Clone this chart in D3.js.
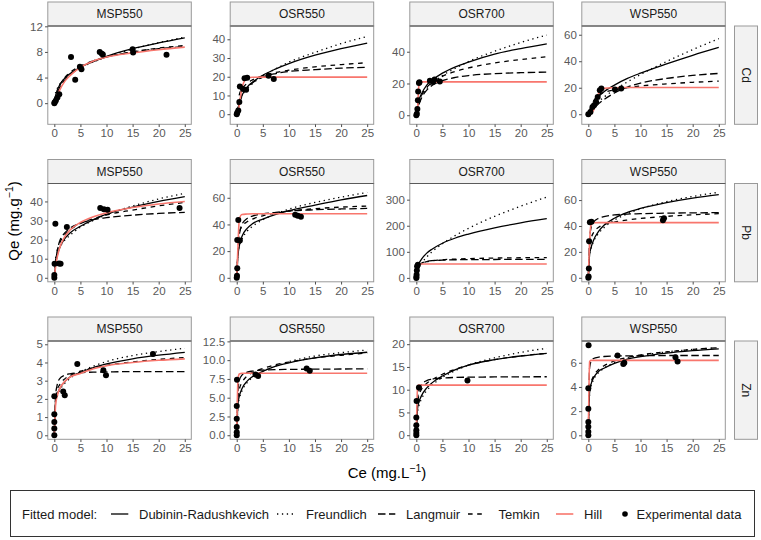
<!DOCTYPE html>
<html><head><meta charset="utf-8">
<script src="https://cdn.jsdelivr.net/npm/d3@7"></script>
<style>
body{margin:0;background:#fff}
svg{display:block;font-family:"Liberation Sans",Arial,Helvetica,sans-serif}
</style>
</head><body>
<svg id="chart" width="761" height="540"></svg>
<script>
// ---------------- DATA ----------------
const metals = ["Cd", "Pb", "Zn"];
const sorbents = ["MSP550", "OSR550", "OSR700", "WSP550"];
const modelNames = ["Dubinin-Radushkevich", "Freundlich", "Langmuir", "Temkin", "Hill"];
const ceGrid = [0, 0.25, 0.5, 1, 2, 3, 5, 7.5, 10, 15, 20, 25];
const xTicks = [0, 5, 10, 15, 20, 25];

// y ticks per panel (rows = metals, columns = sorbents)
const yTicksCd = [[0, 4, 8, 12], [0, 10, 20, 30, 40], [0, 20, 40], [0, 20, 40, 60]];
const yTicksPb = [[0, 10, 20, 30, 40], [0, 20, 40, 60], [0, 100, 200, 300], [0, 20, 40, 60]];
const yTicksZn = [[0, 1, 2, 3, 4, 5], [0, 2.5, 5, 7.5, 10, 12.5], [0, 5, 10, 15, 20], [0, 2, 4, 6]];
const yRangeCd = [[-3.3, 12.05], [-5.4, 47.1], [-5.7, 56.2], [-7.6, 66.6]];
const yRangePb = [[-2.1, 49.4], [-3, 70.7], [-15, 362], [-3.1, 72.8]];
const yRangeZn = [[-0.22, 5.18], [-0.54, 12.55], [-0.9, 20.7], [-0.33, 7.8]];

// fitted curves, values at ceGrid: [Dubinin-Radushkevich, Freundlich, Langmuir, Temkin, Hill]
const cdMSP550Fit = [
  [0, 1.2, 1.9, 2.8, 3.9, 4.6, 5.6, 6.5, 7.3, 8.5, 9.4, 10.2],
  [0, 1.7, 2.2, 2.9, 3.85, 4.5, 5.5, 6.45, 7.2, 8.45, 9.45, 10.3],
  [0, 0.8, 1.4, 2.4, 3.6, 4.4, 5.6, 6.6, 7.2, 8.0, 8.5, 8.85],
  [null, 0, 1.2, 2.6, 4.0, 4.8, 5.8, 6.6, 7.2, 8.0, 8.6, 9.0],
  [0, 0.4, 1.0, 2.0, 3.4, 4.3, 5.6, 6.6, 7.2, 7.85, 8.35, 8.75]];
const cdOSR550Fit = [
  [0, 3, 6, 10, 14.5, 17, 20.8, 24.2, 27, 31.5, 35, 38],
  [0, 5.4, 7.4, 10.1, 13.7, 16.3, 20.5, 24.3, 27.8, 33, 37.7, 41.5],
  [0, 3.4, 5.9, 9.6, 14.1, 16.7, 19.8, 21.7, 22.8, 23.8, 24.6, 25],
  [null, 5, 10.5, 13.5, 16.5, 18.3, 20.5, 22.3, 23.5, 25.3, 26.5, 27.5],
  [0, 1, 5, 14, 19.3, 19.7, 19.8, 19.8, 19.8, 19.8, 19.8, 19.8]];
const cdOSR700Fit = [
  [0, 6, 9.5, 13.5, 19, 22, 26.5, 30.5, 33.5, 38.5, 42, 45],
  [0, 6.6, 9.1, 12.4, 16.8, 20, 25, 29.6, 33.8, 40.3, 45.8, 50.5],
  [0, 3.8, 6.7, 10.9, 15.8, 18.7, 21.8, 23.8, 25, 26.2, 26.8, 27.2],
  [null, 1.6, 6.9, 12.2, 17.5, 20.6, 24.5, 27.6, 29.8, 32.9, 35.1, 36.8],
  [0, 5, 19, 21, 21, 21, 21, 21, 21, 21, 21, 21]];
const cdWSP550Fit = [
  [0, 2, 4, 8, 13.5, 17, 22, 27, 31, 38, 44.5, 50.4],
  [0, 2.3, 3.7, 6, 9.7, 13, 18.4, 24.4, 30, 39.8, 48.8, 57],
  [0, 1, 2, 4, 8, 11, 16, 20.5, 23.5, 27, 29.3, 30.8],
  [null, 3, 6, 10, 14.8, 16.4, 18.5, 20.1, 21.3, 22.9, 24.1, 25],
  [0, 0, 0.3, 3, 16, 19.5, 20, 20.2, 20.2, 20.2, 20.2, 20.2]];
const pbMSP550Fit = [
  [0, 7, 11, 15.5, 20.5, 23.5, 27, 30.5, 33.3, 37, 40, 42.5],
  [0, 10.4, 12.6, 15.8, 19.7, 22.3, 26.5, 30.1, 33.1, 37.6, 41.3, 44.3],
  [0, 8, 13, 19, 23.5, 26, 28.5, 30.5, 31.5, 32.8, 33.7, 34.3],
  [null, 9, 13.5, 18, 22.5, 25, 28.5, 31, 33, 35.5, 37.7, 39.5],
  [0, 6, 10, 15.5, 21.5, 25, 29, 32, 34, 36.8, 38.7, 40]];
const pbOSR550Fit = [
  [0, 17, 24, 31, 37, 40.5, 44, 47.5, 50.3, 54.5, 58.5, 61.7],
  [0, 19, 23.5, 29, 35, 38.5, 43.5, 48, 51.5, 56.5, 60.5, 64],
  [0, 22, 32, 40, 44.5, 46.3, 48, 49, 50, 51, 51.6, 52],
  [null, 28, 34, 38.5, 42, 44, 46.5, 48.5, 50, 51.8, 53, 53.8],
  [0, 25, 44, 47.5, 47.8, 48, 48, 48, 48, 48, 48, 48]];
const pbOSR700Fit = [
  [0, 40, 55, 72, 95, 110, 133, 153, 168, 192, 211, 227],
  [0, 26, 38.3, 55.5, 80.4, 100, 131, 163, 190, 236, 275, 310],
  [0, 30, 45, 56, 63, 66, 68, 69.5, 70, 70.5, 71, 71],
  [null, 38, 47, 55, 62, 65.5, 69.5, 72, 74, 76, 77.2, 78],
  [0, 35, 52, 53, 53, 53, 53, 53, 53, 53, 53, 53]];
const pbWSP550Fit = [
  [0, 18, 23, 29, 36, 40.5, 46, 50.5, 53.5, 58, 61.5, 64.2],
  [0, 18, 22.5, 28, 34.5, 38.7, 44.5, 49.5, 53.3, 58.8, 62.8, 66],
  [0, 30, 38, 43, 46, 47.3, 48.5, 49.2, 49.5, 49.9, 50.1, 50.3],
  [null, 25, 30, 35, 39, 41, 43, 44.6, 45.8, 47.4, 48.6, 49.5],
  [0, 28, 40.5, 42.5, 42.6, 42.6, 42.6, 42.6, 42.6, 42.6, 42.6, 42.6]];
const znMSP550Fit = [
  [0, 1.9, 2.2, 2.55, 2.95, 3.2, 3.45, 3.72, 3.92, 4.2, 4.4, 4.56],
  [0, 1.8, 2.1, 2.45, 2.85, 3.12, 3.48, 3.8, 4.05, 4.38, 4.6, 4.78],
  [0, 2.2, 2.7, 3.1, 3.3, 3.38, 3.44, 3.47, 3.48, 3.5, 3.5, 3.5],
  [null, 2.1, 2.45, 2.77, 3.1, 3.28, 3.52, 3.7, 3.84, 4.03, 4.17, 4.27],
  [0, 1.7, 2.1, 2.55, 2.95, 3.2, 3.4, 3.65, 3.82, 4.0, 4.12, 4.2]];
const znOSR550Fit = [
  [0, 4.3, 5.2, 6.2, 7.2, 7.8, 8.5, 9.2, 9.65, 10.3, 10.75, 11.05],
  [0, 4.0, 4.9, 5.9, 7.0, 7.7, 8.5, 9.25, 9.8, 10.55, 11.0, 11.35],
  [0, 6.0, 7.3, 8.0, 8.4, 8.55, 8.68, 8.74, 8.77, 8.8, 8.82, 8.83],
  [null, 5.0, 6.1, 7.0, 7.9, 8.35, 8.9, 9.4, 9.75, 10.3, 10.65, 10.95],
  [0, 7.5, 8.15, 8.25, 8.25, 8.25, 8.25, 8.25, 8.25, 8.25, 8.25, 8.25]];
const znOSR700Fit = [
  [0, 6, 7.3, 8.7, 10.4, 11.5, 13.0, 14.4, 15.4, 16.6, 17.4, 18.0],
  [0, 5.2, 6.5, 8.0, 9.8, 11.0, 12.7, 14.2, 15.4, 17.0, 18.2, 19.1],
  [0, 8, 9.8, 11.1, 12.0, 12.3, 12.55, 12.7, 12.75, 12.8, 12.83, 12.85],
  [null, 7.5, 8.8, 10.1, 11.4, 12.2, 13.4, 14.5, 15.4, 16.6, 17.4, 18.0],
  [0, 10.8, 11, 11, 11, 11, 11, 11, 11, 11, 11, 11]];
const znWSP550Fit = [
  [0, 3.6, 4.2, 4.75, 5.3, 5.55, 5.95, 6.3, 6.5, 6.8, 7.0, 7.15],
  [0, 3.4, 4.0, 4.6, 5.2, 5.55, 6.0, 6.4, 6.6, 6.9, 7.1, 7.25],
  [0, 5.6, 6.1, 6.35, 6.47, 6.52, 6.55, 6.57, 6.58, 6.6, 6.6, 6.6],
  [null, 3.8, 4.35, 4.9, 5.45, 5.75, 6.15, 6.45, 6.65, 6.9, 7.1, 7.25],
  [0, 6.1, 6.2, 6.2, 6.2, 6.2, 6.2, 6.2, 6.2, 6.2, 6.2, 6.2]];

// experimental data [Ce, Qe]
const cdMSP550Obs = [[0,0],[0.07,0.15],[0.3,0.4],[0.6,0.9],[0.95,1.4],[3.2,7.2],[4.0,3.65],[4.9,5.7],[5.2,5.3],[8.7,8.0],[9.1,7.7],[9.3,7.6],[15.0,8.4],[15.1,7.9],[21.5,7.55]];
const cdOSR550Obs = [[0,0],[0.1,0.8],[0.3,2],[0.5,6.5],[0.6,14.8],[1.2,13.5],[1.5,19.2],[2,19.5],[1.8,13],[6.1,20.5],[7.1,18.8]];
const cdOSR700Obs = [[0,0],[0.1,1],[0.2,4],[0.3,9.5],[0.35,15],[0.5,20.3],[0.6,20.8],[2.6,21.7],[3.5,22.5],[4.5,21.3],[3.2,21]];
const cdWSP550Obs = [[0,0],[0.4,1.7],[0.8,5.5],[1.1,6.8],[1.5,9.3],[1.8,13.1],[2.2,18.1],[2.5,19.4],[5.1,18.6],[6.3,19.4]];
const pbMSP550Obs = [[0,0],[0,1.5],[0.05,7.4],[0.2,28.3],[0.9,7.5],[1.2,7.3],[2.4,26.6],[8.8,36.5],[9.5,35.9],[10.2,35.6],[24,36.5]];
const pbOSR550Obs = [[0,0],[0.05,1.5],[0.1,7.2],[0.1,28.3],[0.3,43.3],[0.6,28],[11.2,47.3],[11.7,46.5],[12.3,45.8]];
const pbOSR700Obs = [[0,0],[0.02,3],[0.05,12],[0.1,28],[0.15,45],[0.3,50]];
const pbWSP550Obs = [[0,0],[0.05,1],[0.1,7.2],[0.15,28.2],[0.3,42.8],[0.6,43.2],[14.3,44.4],[14.5,46]];
const znMSP550Obs = [[0,0],[0,0.37],[0,0.73],[0,1.16],[0,2.15],[1.7,2.4],[2.0,2.2],[4.4,3.92],[9.4,3.58],[9.9,3.3],[18.9,4.46]];
const znOSR550Obs = [[0,0],[0,0.4],[0,1.1],[0,2.2],[0,3.9],[0.05,7.4],[3.6,8.1],[4.1,7.9],[13.4,8.9],[14,8.6]];
const znOSR700Obs = [[0,0],[0,0.5],[0,1.1],[0,2.2],[0,3.9],[0.05,7.5],[0.5,10.5],[9.8,12]];
const znWSP550Obs = [[0,0],[0,0.3],[0,0.7],[0,1.1],[0,2.2],[0,3.9],[0.05,7.44],[5.6,6.6],[6.7,5.9],[6.9,6.0],[16.7,6.45],[17.1,6.1]];

// ---------------- ASSEMBLY ----------------
const panelFits = [
  [cdMSP550Fit, cdOSR550Fit, cdOSR700Fit, cdWSP550Fit],
  [pbMSP550Fit, pbOSR550Fit, pbOSR700Fit, pbWSP550Fit],
  [znMSP550Fit, znOSR550Fit, znOSR700Fit, znWSP550Fit]];
const panelObs = [
  [cdMSP550Obs, cdOSR550Obs, cdOSR700Obs, cdWSP550Obs],
  [pbMSP550Obs, pbOSR550Obs, pbOSR700Obs, pbWSP550Obs],
  [znMSP550Obs, znOSR550Obs, znOSR700Obs, znWSP550Obs]];
const panelTicks = [yTicksCd, yTicksPb, yTicksZn];
const panelRange = [yRangeCd, yRangePb, yRangeZn];

// ---------------- LAYOUT / STYLE ----------------
const colLeft = [47.8, 230.2, 409.8, 581.8], panelW = 143.5;
const rowTop = [26, 183.5, 341], panelH = 98.3, stripH = 24;
const rStripX = 734.5, rStripW = 23;
const hillColor = "#F8766D";
const lineStyles = [
  {dash: null, color: "#000", w: 1.3},
  {dash: "1.3,3.6", color: "#000", w: 1.3},
  {dash: "7.5,3.5", color: "#000", w: 1.3},
  {dash: "4.6,4.6", color: "#000", w: 1.3},
  {dash: null, color: hillColor, w: 1.6}];
const font = "'Liberation Sans', Arial, Helvetica, sans-serif";

const svg = d3.select("#chart");
svg.append("rect").attr("width", 761).attr("height", 540).attr("fill", "#fff");
const defs = svg.append("defs");

metals.forEach((metal, r) => {
  const top = rowTop[r];
  sorbents.forEach((sorb, c) => {
    const left = colLeft[c];
    const x = d3.scaleLinear().domain([-1.25, 26.25]).range([left, left + panelW]);
    const y = d3.scaleLinear().domain(panelRange[r][c]).range([top + panelH, top]);
    const g = svg.append("g");
    const clipId = `clip-${r}-${c}`;
    defs.append("clipPath").attr("id", clipId).append("rect")
      .attr("x", left).attr("y", top).attr("width", panelW).attr("height", panelH);

    g.append("rect").attr("x", left).attr("y", top).attr("width", panelW).attr("height", panelH)
      .attr("fill", "#fff");

    // strip
    g.append("rect").attr("x", left).attr("y", top - stripH).attr("width", panelW).attr("height", stripH)
      .attr("fill", "#F2F2F2").attr("stroke", "#999").attr("stroke-width", 1);
    g.append("text").attr("x", left + panelW / 2).attr("y", top - stripH / 2)
      .attr("dy", "0.36em").attr("text-anchor", "middle")
      .attr("font-size", 12).attr("fill", "#1A1A1A").text(sorb);

    // curves
    const cg = g.append("g").attr("clip-path", `url(#${clipId})`);
    const line = d3.line().defined(d => d[1] != null).curve(d3.curveMonotoneX)
      .x(d => x(d[0])).y(d => y(d[1]));
    panelFits[r][c].forEach((vals, m) => {
      const st = lineStyles[m];
      const pts = ceGrid.map((ce, i) => [ce, vals[i]]);
      cg.append("path").attr("d", line(pts)).attr("fill", "none")
        .attr("stroke", st.color).attr("stroke-width", st.w)
        .attr("stroke-dasharray", st.dash);
    });
    cg.selectAll("circle.obs").data(panelObs[r][c]).enter().append("circle")
      .attr("cx", d => x(d[0])).attr("cy", d => y(d[1])).attr("r", 3).attr("fill", "#000");

    // panel border
    g.append("rect").attr("x", left).attr("y", top).attr("width", panelW).attr("height", panelH)
      .attr("fill", "none").attr("stroke", "#999").attr("stroke-width", 1);
    g.append("line").attr("x1", left).attr("x2", left + panelW).attr("y1", top).attr("y2", top)
      .attr("stroke", "#5a5a5a").attr("stroke-width", 1.2);

    // axes
    const ticks = panelTicks[r][c];
    const dec = ticks.some(t => !Number.isInteger(t)) ? 1 : 0;
    const ya = d3.axisLeft(y).tickValues(ticks).tickSize(2.75).tickPadding(2.2)
      .tickFormat(d => d.toFixed(dec));
    const yg = svg.append("g").attr("transform", `translate(${left},0)`).call(ya);
    const xa = d3.axisBottom(x).tickValues(xTicks).tickSize(2.75).tickPadding(2.2)
      .tickFormat(d3.format("d"));
    const xg = svg.append("g").attr("transform", `translate(0,${top + panelH})`).call(xa);
    [yg, xg].forEach(ax => {
      ax.attr("font-family", font).attr("font-size", 11.5);
      ax.select(".domain").remove();
      ax.selectAll(".tick line").attr("stroke", "#4d4d4d").attr("stroke-width", 1);
      ax.selectAll(".tick text").attr("fill", "#595959");
    });
  });
  // right strip
  svg.append("rect").attr("x", rStripX).attr("y", top).attr("width", rStripW).attr("height", panelH)
    .attr("fill", "#F2F2F2").attr("stroke", "#999").attr("stroke-width", 1);
  svg.append("text").attr("transform", `translate(${rStripX + rStripW / 2},${top + panelH / 2}) rotate(90)`)
    .attr("text-anchor", "middle").attr("dy", "0.36em")
    .attr("font-size", 12).attr("fill", "#1A1A1A").text(metal);
});

// axis titles
const xt = svg.append("text").attr("x", 387).attr("y", 478).attr("text-anchor", "middle")
  .attr("font-size", 15).attr("fill", "#000");
xt.append("tspan").text("Ce (mg.L");
xt.append("tspan").attr("font-size", 10.5).attr("dy", -6).text("\u22121");
xt.append("tspan").attr("dy", 6).text(")");

const yt = svg.append("text").attr("transform", "translate(19,221) rotate(-90)")
  .attr("text-anchor", "middle").attr("font-size", 15).attr("fill", "#000");
yt.append("tspan").text("Qe (mg.g");
yt.append("tspan").attr("font-size", 10.5).attr("dy", -6).text("\u22121");
yt.append("tspan").attr("dy", 6).text(")");

// legend
const lg = svg.append("g");
lg.append("rect").attr("x", 10.5).attr("y", 490.5).attr("width", 744).attr("height", 46)
  .attr("fill", "#fff").attr("stroke", "#333").attr("stroke-width", 1);
const ly = 514;
lg.append("text").attr("x", 22).attr("y", ly).attr("dy", "0.36em").attr("font-size", 13)
  .attr("fill", "#1A1A1A").text("Fitted model:");
const keyX = [111, 277, 378, 468, 556];
const labX = [139, 306, 406, 498.5, 584];
modelNames.forEach((name, m) => {
  const st = lineStyles[m];
  lg.append("line").attr("x1", keyX[m]).attr("x2", keyX[m] + 17.3).attr("y1", ly).attr("y2", ly)
    .attr("stroke", st.color).attr("stroke-width", st.w).attr("stroke-dasharray", st.dash);
  lg.append("text").attr("x", labX[m]).attr("y", ly).attr("dy", "0.36em").attr("font-size", 13)
    .attr("fill", "#1A1A1A").text(name);
});
lg.append("circle").attr("cx", 625).attr("cy", ly).attr("r", 2.8).attr("fill", "#000");
lg.append("text").attr("x", 636.6).attr("y", ly).attr("dy", "0.36em").attr("font-size", 13)
  .attr("fill", "#1A1A1A").text("Experimental data");
</script>
</body></html>
